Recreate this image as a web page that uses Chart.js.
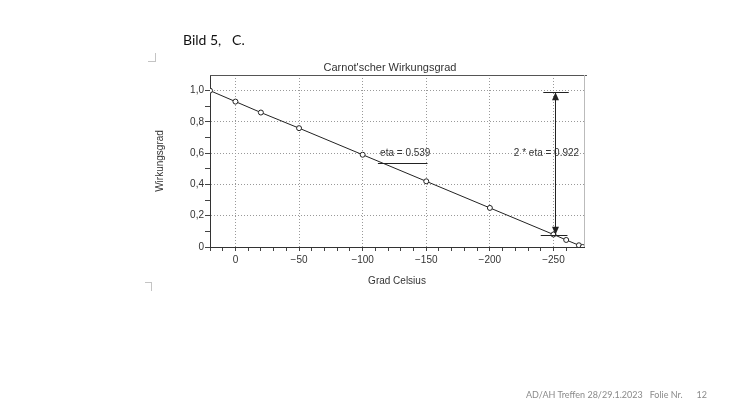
<!DOCTYPE html>
<html>
<head>
<meta charset="utf-8">
<script src="https://cdn.jsdelivr.net/npm/chart.js@4.4.1/dist/chart.umd.min.js"></script>
<style>
  html, body { margin: 0; padding: 0; background: #fff; }
  #wrap { position: relative; width: 750px; height: 413px; overflow: hidden; }
  #c { position: absolute; left: 0; top: 0; }
  .txt { position: absolute; font-family: Lato, "Open Sans", sans-serif; white-space: nowrap; }
  .mark { position: absolute; border-color: #c4c4c4; border-style: solid; border-width: 0; }
</style>
</head>
<body>
<div id="wrap">
  <canvas id="c" width="750" height="413"></canvas>
  <div class="txt" style="left:183px; top:31px; font-size:14px; color:#111;">Bild 5,&nbsp;&nbsp;&nbsp;C.</div>
  <div class="txt" style="left:526px; top:389px; font-size:9px; color:#8a8a8a;">AD/AH Treffen 28/29.1.2023&nbsp;&nbsp;&nbsp;Folie Nr.&nbsp;&nbsp;&nbsp;&nbsp;&nbsp;&nbsp;12</div>
  <div class="mark" style="left:148px; top:53px; width:7px; height:8px; border-right-width:1px; border-bottom-width:1px;"></div>
  <div class="mark" style="left:145px; top:282px; width:6px; height:8px; border-right-width:1px; border-top-width:1px;"></div>
</div>
<script>
// Temperature in °C and Carnot-type efficiency ratio
const temps = [20, 0, -20, -50, -100, -150, -200, -250, -260, -270, -273];
const eta   = [1.0, 0.93, 0.86, 0.76, 0.59, 0.42, 0.25, 0.08, 0.045, 0.011, 0.0];
const xMajorTicks = [0, -50, -100, -150, -200, -250];
const yMajorTicks = [0, 0.2, 0.4, 0.6, 0.8, 1.0];
const chartTitle = "Carnot'scher Wirkungsgrad";
const xTitle = "Grad Celsius";
const yTitle = "Wirkungsgrad";
// annotation values
const etaLabel = "eta = 0.539";
const etaValue = 0.539;
const etaRange = [-112, -151];
const twoEtaLabel = "2 * eta = 0.922";
const arrowX = -251;
const arrowRange = [0.078, 0.99];

const FONT = '"Liberation Sans", Arial, sans-serif';
const DARK = '#333';

const annot = {
  id: 'annot',
  afterDatasetsDraw(chart) {
    const {ctx, scales: {x, y}, chartArea: a} = chart;
    ctx.save();
    ctx.setLineDash([]);
    // frame top & right
    ctx.strokeStyle = '#555'; ctx.lineWidth = 1;
    ctx.beginPath(); ctx.moveTo(a.left, a.top + 0.5); ctx.lineTo(a.right + 3, a.top + 0.5); ctx.stroke();
    ctx.strokeStyle = '#bbb';
    ctx.beginPath(); ctx.moveTo(a.right + 0.5, a.top); ctx.lineTo(a.right + 0.5, a.bottom); ctx.stroke();
    // title
    ctx.fillStyle = DARK; ctx.font = '11px ' + FONT; ctx.textAlign = 'center'; ctx.textBaseline = 'middle';
    ctx.fillText(chartTitle, 390, a.top - 7);
    // eta annotation
    ctx.font = '10px ' + FONT;
    ctx.fillText(etaLabel, x.getPixelForValue(-133.5), y.getPixelForValue(0.597));
    ctx.strokeStyle = '#222';
    const ey = Math.round(y.getPixelForValue(etaValue)) + 0.5;
    ctx.beginPath(); ctx.moveTo(x.getPixelForValue(etaRange[0]), ey); ctx.lineTo(x.getPixelForValue(etaRange[1]), ey); ctx.stroke();
    // 2*eta annotation
    ctx.fillText(twoEtaLabel, x.getPixelForValue(-244.5), y.getPixelForValue(0.6));
    const ax = Math.round(x.getPixelForValue(arrowX)) + 0.5;
    const y1 = y.getPixelForValue(arrowRange[1]);
    const y0 = y.getPixelForValue(arrowRange[0]);
    ctx.strokeStyle = '#222';
    ctx.beginPath(); ctx.moveTo(ax, y1); ctx.lineTo(ax, y0); ctx.stroke();
    // horizontal limit lines
    ctx.beginPath();
    ctx.moveTo(x.getPixelForValue(-242), Math.round(y1) + 0.5); ctx.lineTo(x.getPixelForValue(-262), Math.round(y1) + 0.5);
    ctx.moveTo(x.getPixelForValue(-240), Math.round(y0) + 0.5); ctx.lineTo(x.getPixelForValue(-261), Math.round(y0) + 0.5);
    ctx.stroke();
    // arrow heads
    ctx.fillStyle = '#222';
    ctx.beginPath(); ctx.moveTo(ax, y1); ctx.lineTo(ax - 3.5, y1 + 8); ctx.lineTo(ax + 3.5, y1 + 8); ctx.closePath(); ctx.fill();
    ctx.beginPath(); ctx.moveTo(ax, y0); ctx.lineTo(ax - 3.5, y0 - 8); ctx.lineTo(ax + 3.5, y0 - 8); ctx.closePath(); ctx.fill();
    ctx.restore();
  }
};

const isMajorX = v => xMajorTicks.includes(Math.round(v));
const isMajorY = v => yMajorTicks.some(t => Math.abs(t - v) < 1e-6);
const isStepY = v => Math.abs(Math.round(v * 10) - v * 10) < 1e-6;
const isStepX = v => Math.round(v) % 10 === 0 && Math.round(v) > -274;

new Chart(document.getElementById('c'), {
  type: 'scatter',
  data: {
    datasets: [{
      data: temps.map((t, i) => ({x: t, y: eta[i]})),
      showLine: true,
      borderColor: '#222',
      borderWidth: 1,
      pointRadius: 2.5,
      pointBackgroundColor: '#fff',
      pointBorderColor: '#222',
      pointBorderWidth: 1,
      tension: 0
    }]
  },
  options: {
    responsive: false,
    animation: false,
    layout: { padding: { left: 150, right: 166, top: 75, bottom: 126 } },
    plugins: { legend: { display: false }, tooltip: { enabled: false } },
    scales: {
      x: {
        type: 'linear', reverse: true, min: -274, max: 20,
        afterFit(s) { s.height = 40; },
        border: { color: DARK, width: 1, dash: [1, 2] },
        grid: {
          color: c => isMajorX(c.tick.value) ? '#999' : 'rgba(0,0,0,0)',
          tickColor: c => isStepX(c.tick.value) ? '#444' : 'rgba(0,0,0,0)',
          tickLength: 4,
          lineWidth: 1,
          drawTicks: true
        },
        ticks: {
          stepSize: 10, autoSkip: false, maxRotation: 0, padding: 3,
          color: DARK, font: { family: FONT, size: 10 },
          callback: v => isMajorX(v) ? (Math.round(v) === 0 ? '0' : '\u2212' + Math.abs(Math.round(v))) : ''
        },
        title: { display: true, text: xTitle, color: DARK, font: { family: FONT, size: 10 }, padding: { top: 3, bottom: 0 } }
      },
      y: {
        type: 'linear', min: 0, max: 1.1,
        afterFit(s) { s.width = 60; },
        border: { color: DARK, width: 1, dash: [1, 2] },
        grid: {
          color: c => isMajorY(c.tick.value) ? '#999' : 'rgba(0,0,0,0)',
          tickColor: c => isStepY(c.tick.value) && c.tick.value <= 1.05 ? '#444' : 'rgba(0,0,0,0)',
          tickLength: 5
        },
        ticks: {
          stepSize: 0.1, autoSkip: false, padding: 1,
          color: DARK, font: { family: FONT, size: 10 },
          callback: v => isMajorY(v) ? (v === 0 ? '0' : (Math.round(v * 10) / 10).toFixed(1).replace('.', ',')) : ''
        },
        title: { display: true, text: yTitle, color: DARK, font: { family: FONT, size: 10 }, padding: { top: 4, bottom: 0 } }
      }
    }
  },
  plugins: [annot]
});
</script>
</body>
</html>
